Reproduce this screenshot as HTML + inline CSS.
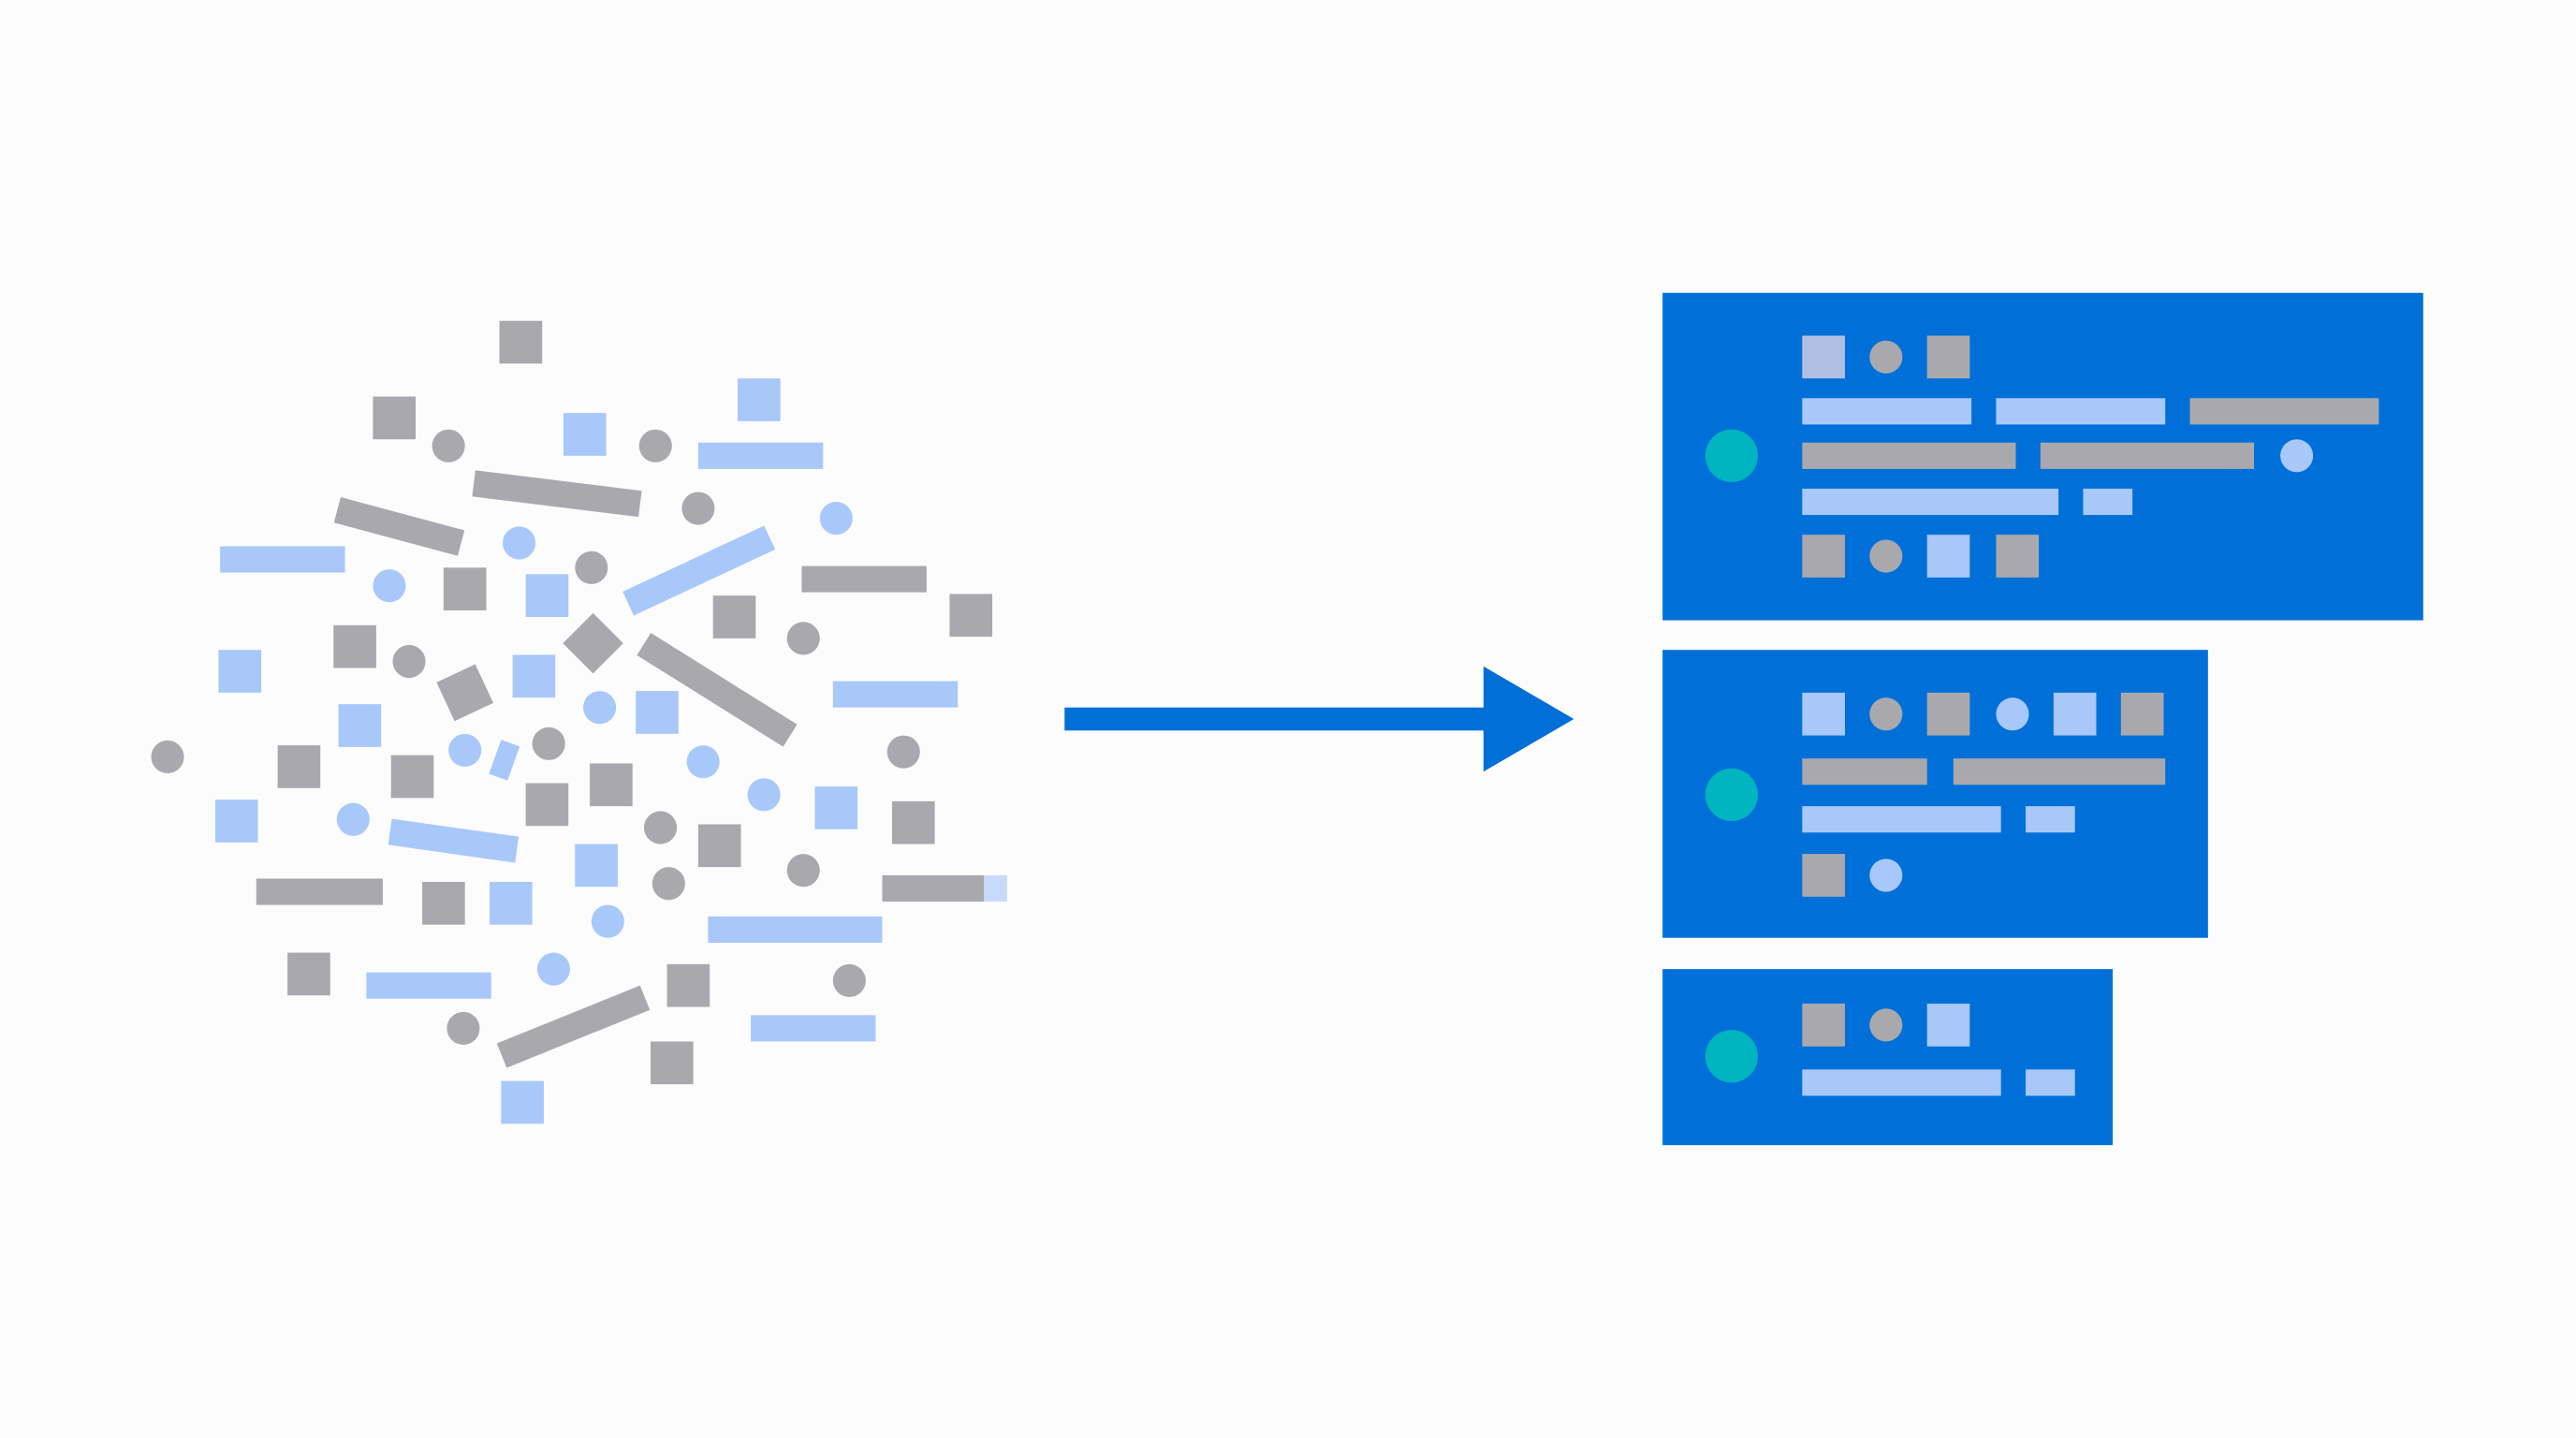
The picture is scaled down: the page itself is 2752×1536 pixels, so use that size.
<!DOCTYPE html>
<html><head><meta charset="utf-8"><style>html,body{margin:0;padding:0;background:#fcfcfc}svg{display:block}</style></head>
<body>
<svg width="2752" height="1536" viewBox="0 0 1568 874" preserveAspectRatio="none" xmlns="http://www.w3.org/2000/svg">
<rect width="1568" height="874" fill="#fcfcfc"/>
<g fill="#a9a9ad">
<rect x="304" y="195" width="26" height="26"/><rect x="227" y="241" width="26" height="26"/>
<rect x="270" y="345" width="26" height="26"/><rect x="434" y="362" width="26" height="26"/>
<rect x="578" y="361" width="26" height="26"/><rect x="203" y="380" width="26" height="26"/>
<rect x="169" y="453" width="26" height="26"/><rect x="238" y="459" width="26" height="26"/>
<rect x="359" y="464" width="26" height="26"/><rect x="320" y="476" width="26" height="26"/>
<rect x="425" y="501" width="26" height="26"/><rect x="543" y="487" width="26" height="26"/>
<rect x="257" y="536" width="26" height="26"/><rect x="175" y="579" width="26" height="26"/>
<rect x="406" y="586" width="26" height="26"/><rect x="396" y="633" width="26" height="26"/>
<circle cx="273" cy="271" r="10"/><circle cx="399" cy="271" r="10"/><circle cx="425" cy="309" r="10"/>
<circle cx="360" cy="345" r="10"/><circle cx="249" cy="402" r="10"/><circle cx="489" cy="388" r="10"/>
<circle cx="102" cy="460" r="10"/><circle cx="334" cy="452" r="10"/><circle cx="550" cy="457" r="10"/>
<circle cx="402" cy="503" r="10"/><circle cx="489" cy="529" r="10"/><circle cx="407" cy="537" r="10"/>
<circle cx="517" cy="596" r="10"/><circle cx="282" cy="625" r="10"/>
<rect x="488" y="344" width="76" height="16"/><rect x="156" y="534" width="77" height="16"/>
<rect x="537" y="532" width="62" height="16"/>
<rect x="-39" y="-8" width="78" height="16" transform="translate(243,320) rotate(15)"/>
<rect x="-51" y="-8" width="102" height="16" transform="translate(339,300) rotate(7)"/>
<rect x="-52" y="-8" width="105" height="16" transform="translate(436,419) rotate(32)"/>
<rect x="-47" y="-8" width="94" height="16" transform="translate(349,624) rotate(-22)"/>
<rect x="-13" y="-13" width="26" height="26" transform="translate(361,391) rotate(45)"/>
<rect x="-13" y="-13" width="26" height="26" transform="translate(283,421) rotate(-25)"/>
</g>
<g fill="#a8c8fa">
<rect x="449" y="230" width="26" height="26"/><rect x="343" y="251" width="26" height="26"/>
<rect x="320" y="349" width="26" height="26"/><rect x="133" y="395" width="26" height="26"/>
<rect x="312" y="398" width="26" height="26"/><rect x="206" y="428" width="26" height="26"/>
<rect x="387" y="420" width="26" height="26"/><rect x="131" y="486" width="26" height="26"/>
<rect x="496" y="478" width="26" height="26"/><rect x="350" y="513" width="26" height="26"/>
<rect x="298" y="536" width="26" height="26"/><rect x="305" y="657" width="26" height="26"/>
<circle cx="316" cy="330" r="10"/><circle cx="509" cy="315" r="10"/><circle cx="237" cy="356" r="10"/>
<circle cx="365" cy="430" r="10"/><circle cx="283" cy="456" r="10"/><circle cx="428" cy="463" r="10"/>
<circle cx="215" cy="498" r="10"/><circle cx="465" cy="483" r="10"/><circle cx="370" cy="560" r="10"/>
<circle cx="337" cy="589" r="10"/>
<rect x="425" y="269" width="76" height="16"/><rect x="134" y="332" width="76" height="16"/>
<rect x="507" y="414" width="76" height="16"/><rect x="431" y="557" width="106" height="16"/>
<rect x="223" y="591" width="76" height="16"/><rect x="457" y="617" width="76" height="16"/>
<rect x="599" y="532" width="14" height="16" fill="#c8dafc"/>
<rect x="-47" y="-8" width="95" height="16" transform="translate(425,347) rotate(-25)"/>
<rect x="-39" y="-8" width="78" height="16" transform="translate(276,511) rotate(8)"/>
<rect x="-6" y="-11" width="12" height="22" transform="translate(307,462) rotate(20)"/>
</g>
<rect x="648" y="430" width="257" height="14" fill="#0070d8"/>
<polygon points="903,405 958,437 903,469" fill="#0070d8"/>
<g fill="#0070d8">
<rect x="1012" y="178" width="463" height="199"/>
<rect x="1012" y="395" width="332" height="175"/>
<rect x="1012" y="589" width="274" height="107"/>
</g>
<g fill="#00b4c0"><circle cx="1054" cy="277" r="16"/><circle cx="1054" cy="483" r="16"/><circle cx="1054" cy="642" r="16"/></g>
<g fill="#a9a9ad">
<circle cx="1148" cy="217" r="10"/><rect x="1173" y="204" width="26" height="26"/>
<rect x="1333" y="242" width="115" height="16"/>
<rect x="1097" y="269" width="130" height="16"/><rect x="1242" y="269" width="130" height="16"/>
<rect x="1097" y="325" width="26" height="26"/><circle cx="1148" cy="338" r="10"/><rect x="1215" y="325" width="26" height="26"/>
<circle cx="1148" cy="434" r="10"/><rect x="1173" y="421" width="26" height="26"/><rect x="1291" y="421" width="26" height="26"/>
<rect x="1097" y="461" width="76" height="16"/><rect x="1189" y="461" width="129" height="16"/>
<rect x="1097" y="519" width="26" height="26"/>
<rect x="1097" y="610" width="26" height="26"/><circle cx="1148" cy="623" r="10"/>
</g>
<g fill="#a8c8fa">
<rect x="1097" y="204" width="26" height="26" fill="#b0c0e4"/>
<rect x="1097" y="242" width="103" height="16"/><rect x="1215" y="242" width="103" height="16"/>
<circle cx="1398" cy="277" r="10"/>
<rect x="1097" y="297" width="156" height="16"/><rect x="1268" y="297" width="30" height="16"/>
<rect x="1173" y="325" width="26" height="26"/>
<rect x="1097" y="421" width="26" height="26"/><circle cx="1225" cy="434" r="10"/><rect x="1250" y="421" width="26" height="26"/>
<rect x="1097" y="490" width="121" height="16"/><rect x="1233" y="490" width="30" height="16"/>
<circle cx="1148" cy="532" r="10"/>
<rect x="1173" y="610" width="26" height="26"/>
<rect x="1097" y="650" width="121" height="16"/><rect x="1233" y="650" width="30" height="16"/>
</g>
</svg>
</body></html>
